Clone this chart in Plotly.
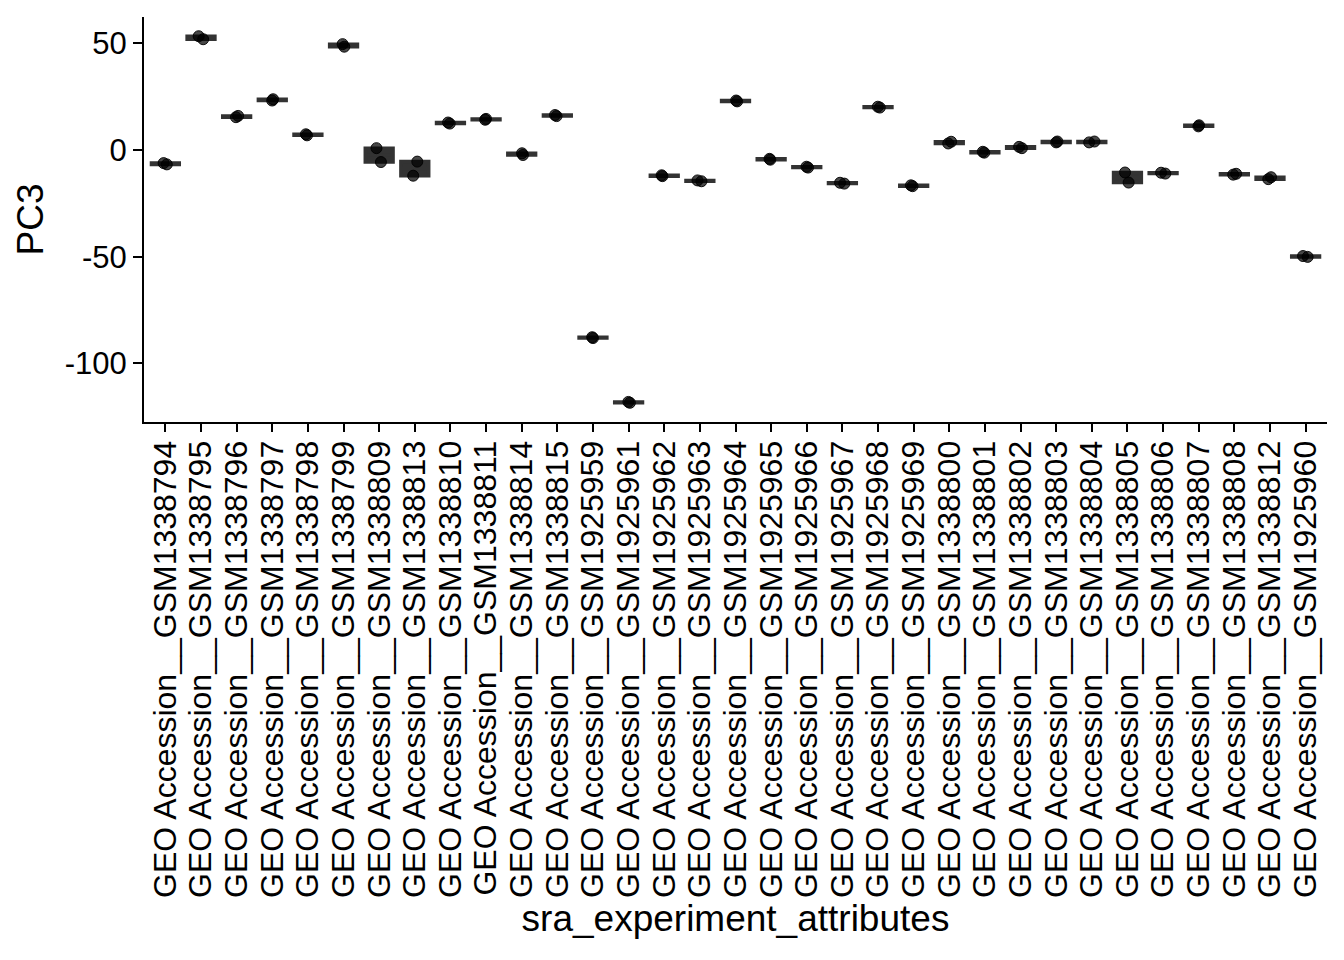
import plotly.graph_objects as go

sample_ids = [
    "GSM1338794", "GSM1338795", "GSM1338796", "GSM1338797", "GSM1338798",
    "GSM1338799", "GSM1338809", "GSM1338813", "GSM1338810", "GSM1338811",
    "GSM1338814", "GSM1338815", "GSM1925959", "GSM1925961", "GSM1925962",
    "GSM1925963", "GSM1925964", "GSM1925965", "GSM1925966", "GSM1925967",
    "GSM1925968", "GSM1925969", "GSM1338800", "GSM1338801", "GSM1338802",
    "GSM1338803", "GSM1338804", "GSM1338805", "GSM1338806", "GSM1338807",
    "GSM1338808", "GSM1338812", "GSM1925960",
]
categories = ["GEO Accession__" + s for s in sample_ids]

pc3_rep1 = [
    -6.2, 51.8, 15.3, 23.1, 6.8, 48.3, 0.8, -5.5, 12.3, 14.1,
    -1.6, 15.8, -87.7, -118.0, -11.9, -14.3, 22.7, -4.2, -7.9, -15.4,
    19.8, -16.6, 3.0, -0.9, 1.4, 3.5, 3.5, -10.6, -10.7, 11.0,
    -11.2, -12.8, -49.7,
]
pc3_rep2 = [
    -6.8, 53.2, 15.9, 23.7, 7.3, 49.5, -5.7, -12.1, 12.8, 14.5,
    -2.4, 16.3, -88.1, -118.4, -12.3, -14.7, 23.1, -4.6, -8.3, -15.8,
    20.2, -17.0, 3.8, -1.3, 0.8, 3.9, 3.9, -15.3, -11.1, 11.5,
    -11.6, -13.7, -50.1,
]

x_vals = categories + categories
y_vals = pc3_rep1 + pc3_rep2

FONT = "Liberation Sans, Arial, sans-serif"

fig = go.Figure()
fig.add_trace(go.Box(
    x=x_vals,
    y=y_vals,
    boxpoints="all",
    jitter=0.2,
    pointpos=0,
    width=0.78,
    quartilemethod="linear",
    fillcolor="#333333",
    line=dict(color="#333333", width=3.5),
    marker=dict(size=11, color="rgba(0,0,0,0.72)",
                line=dict(width=1, color="rgba(0,0,0,0.9)")),
    showlegend=False,
))

fig.update_layout(
    width=1344, height=960,
    margin=dict(l=144, r=17, t=17, b=538),
    paper_bgcolor="white", plot_bgcolor="white",
    font=dict(family=FONT, color="black"),
    xaxis=dict(
        type="category",
        categoryorder="array", categoryarray=categories,
        tickmode="array", tickvals=categories, ticktext=categories,
        range=[-0.6, len(categories) - 0.4],
        showgrid=False, zeroline=False,
        showline=True, linecolor="black", linewidth=2,
        ticks="outside", ticklen=8, tickwidth=2, tickcolor="black",
        tickangle=-90,
        ticklabelstandoff=-4,
        tickfont=dict(family=FONT, size=32, color="black"),
        title=dict(text="sra_experiment_attributes",
                   font=dict(family=FONT, size=37, color="black"),
                   standoff=2),
        automargin=False,
    ),
    yaxis=dict(
        range=[-127.4, 62.2],
        tickvals=[50, 0, -50, -100],
        ticktext=["50", "0", "-50", "-100"],
        showgrid=False, zeroline=False,
        showline=True, linecolor="black", linewidth=2,
        ticks="outside", ticklen=9, tickwidth=2, tickcolor="black",
        tickfont=dict(family=FONT, size=31, color="black"),
        title=dict(text="PC3",
                   font=dict(family=FONT, size=37, color="black"),
                   standoff=10),
        automargin=False,
    ),
)

fig.write_html("out.html")
